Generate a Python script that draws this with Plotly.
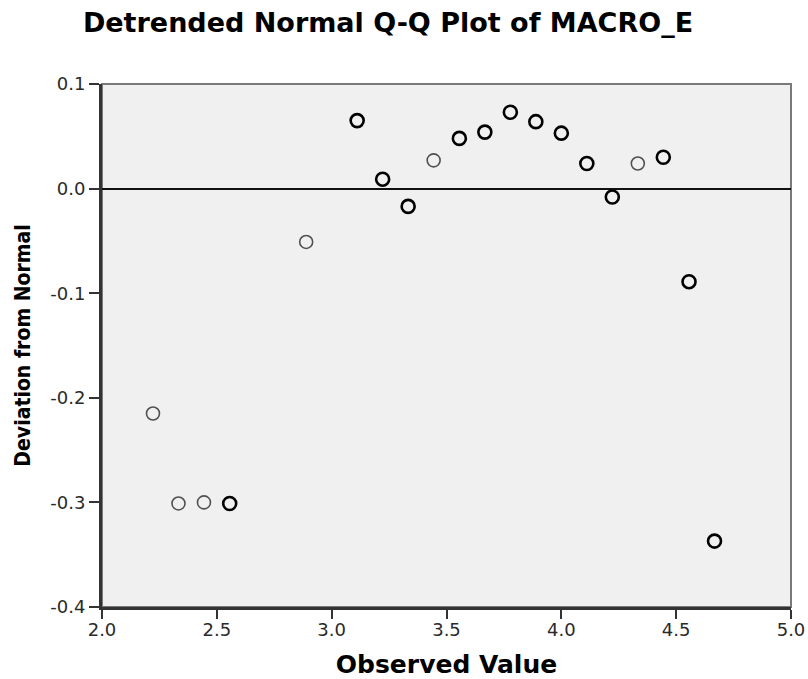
import plotly.graph_objects as go

# Observed values (x) and deviation from normal (y)
observed = [2.222, 2.333, 2.444, 2.556, 2.889, 3.111, 3.222, 3.333, 3.444, 3.556,
            3.667, 3.778, 3.889, 4.000, 4.111, 4.222, 4.333, 4.444, 4.556, 4.667]
deviation = [-0.215, -0.301, -0.300, -0.301, -0.051, 0.065, 0.009, -0.017, 0.027, 0.048,
             0.054, 0.073, 0.064, 0.053, 0.024, -0.008, 0.024, 0.030, -0.089, -0.337]
# number of cases sharing each point (repeated cases draw darker)
cases = [1, 1, 1, 2, 1, 2, 2, 2, 1, 2, 2, 2, 2, 2, 2, 2, 1, 2, 2, 2]

x_ticks = [2.0, 2.5, 3.0, 3.5, 4.0, 4.5, 5.0]
y_ticks = [0.1, 0.0, -0.1, -0.2, -0.3, -0.4]

single_x = [x for x, c in zip(observed, cases) if c == 1]
single_y = [y for y, c in zip(deviation, cases) if c == 1]
multi_x = [x for x, c in zip(observed, cases) if c > 1]
multi_y = [y for y, c in zip(deviation, cases) if c > 1]

fig = go.Figure()
fig.add_trace(go.Scatter(x=single_x, y=single_y, mode="markers",
                         marker=dict(symbol="circle-open", size=13, color="#505050",
                                     line=dict(width=1.6)),
                         showlegend=False, hoverinfo="x+y"))
fig.add_trace(go.Scatter(x=multi_x, y=multi_y, mode="markers",
                         marker=dict(symbol="circle-open", size=13, color="#000000",
                                     line=dict(width=2.6)),
                         showlegend=False, hoverinfo="x+y"))

fig.add_shape(type="rect", xref="paper", yref="paper", x0=0, x1=1, y0=0, y1=1,
              line=dict(color="#7a7a7a", width=2), layer="below")

fig.update_layout(
    width=808, height=679,
    margin=dict(l=102, r=17, t=84, b=72, autoexpand=False),
    paper_bgcolor="white", plot_bgcolor="#f0f0f0",
    title=dict(text="<b>Detrended Normal Q-Q Plot of MACRO_E</b>",
               font=dict(family="DejaVu Sans", size=27, color="black"),
               x=388 / 808, xanchor="center", xref="container",
               y=1 - 23 / 679, yanchor="middle", yref="container"),
    xaxis=dict(range=[2.0, 5.0], tickvals=x_ticks, ticktext=[f"{v:.1f}" for v in x_ticks],
               showgrid=False, zeroline=False, automargin=False,
               showline=True, linecolor="#333333", linewidth=3,
               ticks="outside", ticklen=9, tickwidth=2, tickcolor="#333333",
               ticklabelstandoff=-5,
               tickfont=dict(family="DejaVu Sans", size=18, color="#2a2a2a"),
               title=dict(text="<b>Observed Value</b>", standoff=25,
                          font=dict(family="DejaVu Sans", size=25, color="black"))),
    yaxis=dict(range=[-0.4, 0.1], tickvals=y_ticks, ticktext=[f"{v:.1f}" for v in y_ticks],
               showgrid=False, automargin=False,
               zeroline=True, zerolinecolor="#111111", zerolinewidth=1.6,
               showline=True, linecolor="#333333", linewidth=3,
               ticks="outside", ticklen=10, tickwidth=2, tickcolor="#333333",
               tickfont=dict(family="DejaVu Sans", size=18, color="#2a2a2a"),
               title=dict(text="<b>Deviation from Normal</b>", standoff=14,
                          font=dict(family="DejaVu Sans Condensed, DejaVu Sans", size=21,
                                    color="black"))),
)

fig.write_html("out.html")
